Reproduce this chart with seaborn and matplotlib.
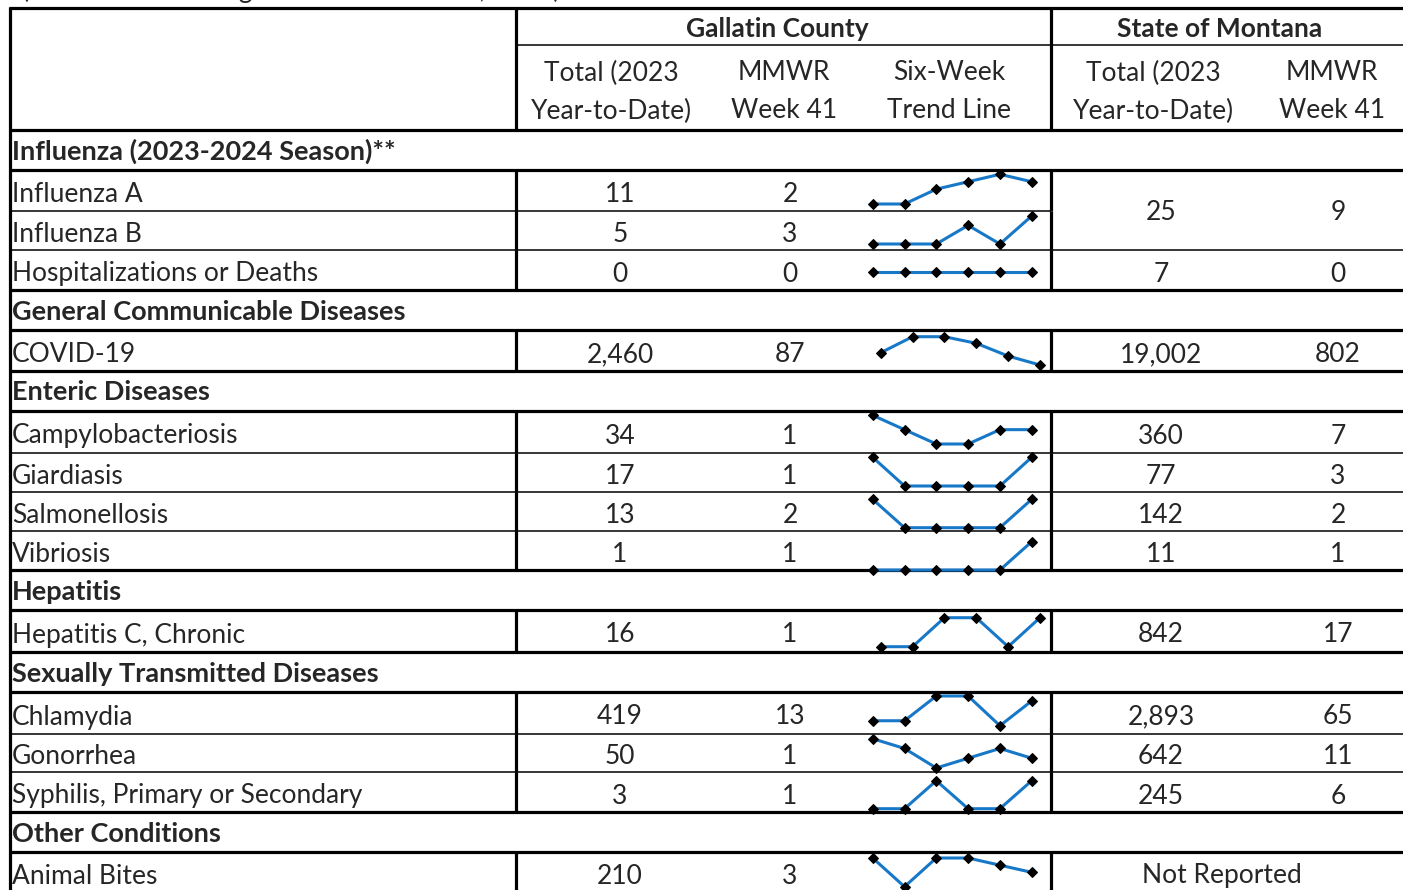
import matplotlib
matplotlib.use('Agg')
import matplotlib.pyplot as plt
import seaborn as sns
import pandas as pd

# Table content: weekly communicable disease report, Gallatin County vs State of Montana
row_labels = ['Influenza (2023-2024 Season)**', 'Influenza A', 'Influenza B', 'Hospitalizations or Deaths',
              'General Communicable Diseases', 'COVID-19',
              'Enteric Diseases', 'Campylobacteriosis', 'Giardiasis', 'Salmonellosis', 'Vibriosis',
              'Hepatitis', 'Hepatitis C, Chronic',
              'Sexually Transmitted Diseases', 'Chlamydia', 'Gonorrhea', 'Syphilis, Primary or Secondary',
              'Other Conditions', 'Animal Bites']
is_section = [True, False, False, False,
              True, False,
              True, False, False, False, False,
              True, False,
              True, False, False, False,
              True, False]

gallatin_total = ['', '11', '5', '0', '', '2,460', '', '34', '17', '13', '1', '', '16', '', '419', '50', '3', '', '210']
gallatin_week = ['', '2', '3', '0', '', '87', '', '1', '1', '2', '1', '', '1', '', '13', '1', '1', '', '3']
montana_total = ['', '25', None, '7', '', '19,002', '', '360', '77', '142', '11', '', '842', '', '2,893', '642', '245', '', None]
montana_week = ['', '9', None, '0', '', '802', '', '7', '3', '2', '1', '', '17', '', '65', '11', '6', '', None]

# six-week trend (sparkline) values
trend_weeks = [1, 2, 3, 4, 5, 6]
flu_a_trend = [0, 0, 2, 3, 4, 3]
flu_b_trend = [0, 0, 0, 2, 0, 3]
hosp_trend = [0, 0, 0, 0, 0, 0]
covid_trend = [113, 147, 147, 133, 106, 87]
campy_trend = [2, 1, 0, 0, 1, 1]
giardia_trend = [1, 0, 0, 0, 0, 1]
salmonella_trend = [2, 0, 0, 0, 0, 2]
vibrio_trend = [0, 0, 0, 0, 0, 1]
hepc_trend = [0, 0, 1, 1, 0, 1]
chlamydia_trend = [9, 9, 14, 14, 8, 13]
gonorrhea_trend = [3, 2, 0, 1, 2, 1]
syphilis_trend = [0, 0, 1, 0, 0, 1]
bites_trend = [5, 1, 5, 5, 4, 3]

trends = {1: flu_a_trend, 2: flu_b_trend, 3: hosp_trend, 5: covid_trend, 7: campy_trend,
          8: giardia_trend, 9: salmonella_trend, 10: vibrio_trend, 12: hepc_trend,
          14: chlamydia_trend, 15: gonorrhea_trend, 16: syphilis_trend, 18: bites_trend}

# layout in pixels (figure is 1403 x 890)
W, H = 1403, 890
row_edges = [130, 170, 211, 250, 290, 330, 371, 411, 453, 492, 531, 570, 610, 652, 692, 734, 772, 812, 852, 892]
thin_edges = [211, 250, 453, 492, 531, 734, 772]
x_left, x_div1, x_div2 = 10, 516, 1051
col_x = {'gt': 620, 'gw': 790, 'mt': 1161, 'mw': 1338}
# sparkline bands (top, bottom) and x-span
spark_band = {1: (174.3, 204), 2: (216, 244), 3: (258, 286), 5: (336.7, 365), 7: (415.3, 444),
              8: (457.3, 486), 9: (499.3, 527.7), 10: (541.7, 570), 12: (617.7, 646.7),
              14: (696, 725.7), 15: (738.7, 768), 16: (780.7, 808.7), 18: (858, 886.7)}
spark_x = {5: (880.7, 1040), 12: (880.7, 1040)}

blue = '#1878C8'
thick, thin = 2.3, 1.1
fs = 19

sns.set_theme(style='white')
plt.rcParams['font.family'] = ['Lato', 'DejaVu Sans']

fig = plt.figure(figsize=(W / 100, H / 100), dpi=100)
ax = fig.add_axes([0, 0, 1, 1])
ax.set_xlim(0, W)
ax.set_ylim(H, 0)
ax.axis('off')

def hline(y, x0, x1, lw):
    ax.plot([x0, x1], [y, y], color='black', lw=lw, solid_capstyle='butt')

def vline(x, y0, y1, lw):
    ax.plot([x, x], [y0, y1], color='black', lw=lw, solid_capstyle='butt')

# caption line cut off at the top
ax.text(22, -2, '(Data shown through MMWR Week 41, 2023)', fontsize=fs, va='baseline', ha='left')

# header
hline(8, x_left - 1, W, thick)
hline(45, x_div1, W, thin)
hline(130, x_left - 1, W, thick)
vline(x_left, 7, H, thick)
vline(x_div1, 8, 130, thick)
vline(x_div2, 8, 130, thick)
ax.text(777, 29, 'Gallatin County', fontsize=fs, fontweight='bold', ha='center', va='center')
ax.text(1220, 29, 'State of Montana', fontsize=fs, fontweight='bold', ha='center', va='center')
sub_heads = [(611, 'Total (2023', 'Year-to-Date)'), (784, 'MMWR', 'Week 41'), (949, 'Six-Week', 'Trend Line'),
             (1153, 'Total (2023', 'Year-to-Date)'), (1332, 'MMWR', 'Week 41')]
for x, l1, l2 in sub_heads:
    ax.text(x, 73, l1, fontsize=fs, ha='center', va='center')
    ax.text(x, 111, l2, fontsize=fs, ha='center', va='center')

# row lines
for y in row_edges[1:-1]:
    if y == 211:
        hline(y, x_left, x_div2, thin)
    else:
        hline(y, x_left, W, thin if y in thin_edges else thick)

# rows
for i, label in enumerate(row_labels):
    top, bot = row_edges[i], row_edges[i + 1]
    if is_section[i]:
        ax.text(12, (top + bot) / 2 + 1.5, label, fontsize=fs + 0.5, fontweight='bold', ha='left', va='center')
        continue
    yc = (top + bot) / 2 + 4
    vline(x_div1, top, bot, thick)
    vline(x_div2, top, bot, thick)
    ax.text(12, yc, label, fontsize=fs, ha='left', va='center')
    ax.text(col_x['gt'], yc, gallatin_total[i], fontsize=fs, ha='center', va='center')
    ax.text(col_x['gw'], yc, gallatin_week[i], fontsize=fs, ha='center', va='center')
    if montana_total[i] is not None:
        my = yc
        if i + 1 < len(row_labels) and montana_total[i + 1] is None and not is_section[i + 1]:
            my = (top + row_edges[i + 2]) / 2 + 2
        ax.text(col_x['mt'], my, montana_total[i], fontsize=fs, ha='center', va='center')
        ax.text(col_x['mw'], my, montana_week[i], fontsize=fs, ha='center', va='center')
    elif i == len(row_labels) - 1:
        ax.text(1222, yc, 'Not Reported', fontsize=fs, ha='center', va='center')

# sparklines
for i, vals in trends.items():
    t, b = spark_band[i]
    x0, x1 = spark_x.get(i, (872.7, 1031.7))
    sax = fig.add_axes([x0 / W, 1 - b / H, (x1 - x0) / W, (b - t) / H])
    df = pd.DataFrame({'week': trend_weeks, 'cases': vals})
    sns.lineplot(data=df, x='week', y='cases', ax=sax, color=blue, lw=2.2, marker='D', markersize=5.2,
                 markerfacecolor='black', markeredgecolor='black', clip_on=False)
    lo, hi = min(vals), max(vals)
    if lo == hi:
        lo, hi = lo - 1, hi + 1
    sax.set_xlim(trend_weeks[0], trend_weeks[-1])
    sax.set_ylim(lo, hi)
    sax.axis('off')
    sax.patch.set_alpha(0)

fig.savefig('out.png', dpi=100)
